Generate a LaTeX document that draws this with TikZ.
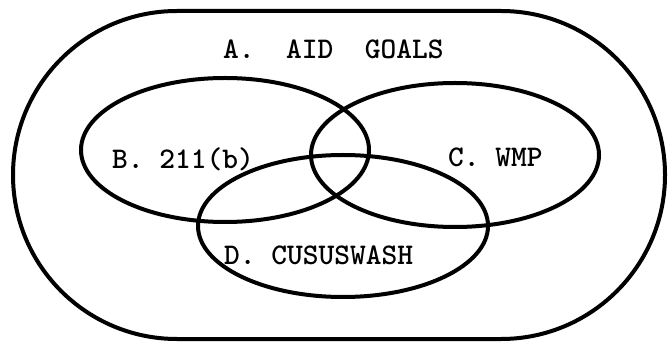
\documentclass[tikz,border=0pt]{standalone}
\usepackage{fontspec}
\begin{document}
\begin{tikzpicture}[x=1pt,y=-1pt,
  ring/.style={draw=black,line width=4pt},
  lbl/.style={anchor=west,inner sep=0pt,font=\fontsize{30}{32}\selectfont\ttfamily\bfseries}]
\useasboundingbox (0,0) rectangle (668,344);
\draw[ring] (177,11) -- (501,11) arc[start angle=90, end angle=-90, radius=164pt]
  -- (177,339) arc[start angle=270, end angle=90, radius=164pt] -- cycle;
\draw[ring] (225,150) ellipse [x radius=144pt, y radius=72pt];
\draw[ring] (455,155) ellipse [x radius=144pt, y radius=72pt];
\draw[ring] (343,226) ellipse [x radius=145pt, y radius=71pt];
\node[lbl] (a) at (223,49) {A.\ \ AID\ \ GOALS};
\node[lbl] (b) at (112,159) {B. 211(b)};
\node[lbl] (c) at (448,157) {C. WMP};
\node[lbl] (d) at (224,255) {D. CUSUSWASH};
\end{tikzpicture}
\end{document}
